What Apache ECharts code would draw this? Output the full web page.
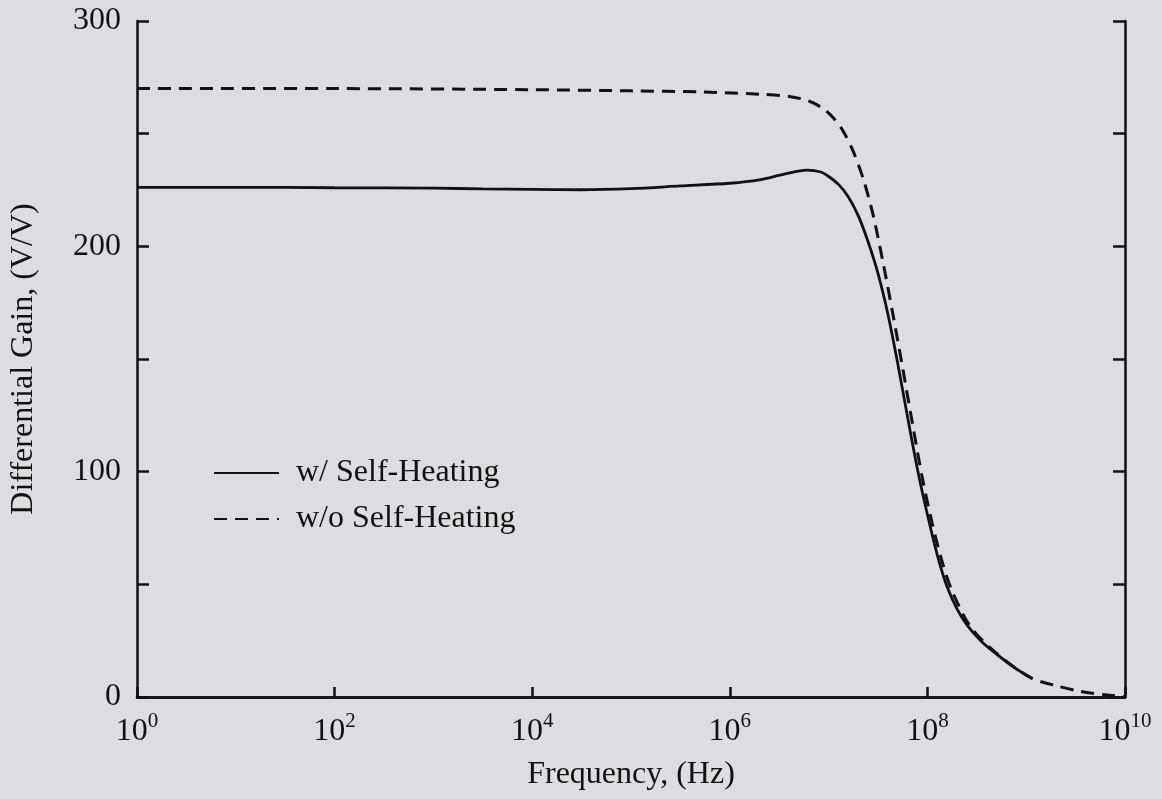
<!DOCTYPE html>
<html>
<head>
<meta charset="utf-8">
<script src="https://cdn.jsdelivr.net/npm/echarts@6/dist/echarts.min.js"></script>
<style>
  html, body { margin: 0; padding: 0; background: #dddcde; }
  #chart { width: 1162px; height: 799px; }
</style>
</head>
<body>
<div id="chart"></div>
<script>
// Frequency (Hz) and differential gain (V/V), with self-heating
const freqWithSH = [1, 10, 100, 1e3, 3.16e3, 1e4, 3.16e4, 1e5, 3.16e5, 1e6, 2e6, 3.55e6, 6.03e6,
  8.32e6, 1e7, 1.26e7, 1.58e7, 2e7, 2.51e7, 3.16e7, 3.98e7, 5.01e7, 6.31e7, 7.94e7,
  1e8, 1.26e8, 1.58e8, 2e8, 2.51e8, 3.55e8, 5.01e8, 7.59e8, 1.12e9];
const gainWithSH = [226.2, 226.2, 226, 225.8, 225.5, 225.3, 225.1, 225.6, 226.8, 228, 229.5, 232, 233.8,
  233, 231, 227.5, 222, 213.5, 202, 188, 170, 148, 124, 101,
  81, 63, 49, 39, 32, 24.5, 19, 13, 8.5];

// Frequency (Hz) and differential gain (V/V), without self-heating
const freqNoSH = [1, 100, 1e4, 1e5, 5.37e5, 2e6, 3.98e6, 6.31e6, 8.91e6, 1.12e7, 1.41e7, 1.78e7,
  2.24e7, 2.82e7, 3.55e7, 4.47e7, 5.62e7, 7.08e7, 8.91e7, 1.12e8, 1.41e8, 1.78e8,
  2.75e8, 5.13e8, 1.12e9, 2e9, 3.55e9, 6.31e9, 1e10];
const gainNoSH = [270, 270, 269.5, 269, 268.5, 267.5, 266.5, 264.5, 261, 257, 251, 242,
  230, 214, 193, 170, 146, 121, 97, 77, 60, 47,
  31, 19, 8.5, 5, 2.5, 1, 0.2];

const seriesNames = ['w/ Self-Heating', 'w/o Self-Heating'];
const yTicks = [0, 100, 200, 300];

const FONT = '"Liberation Serif", "DejaVu Serif", serif';
const INK = '#111111';

function pairs(xs, ys) { return xs.map((x, i) => [x, ys[i]]); }

const chart = echarts.init(document.getElementById('chart'), null, { renderer: 'canvas' });

chart.setOption({
  backgroundColor: '#dddcde',
  animation: false,
  grid: { left: 137, right: 37, top: 21, bottom: 102 },
  legend: {
    orient: 'vertical',
    left: 208,
    top: 452,
    itemWidth: 65,
    itemHeight: 20,
    itemGap: 14,
    data: seriesNames,
    itemStyle: { opacity: 0 },
    textStyle: { fontFamily: FONT, fontSize: 32, color: INK, padding: [0, 0, 0, 12] }
  },
  xAxis: [{
    type: 'log',
    logBase: 10,
    min: 1,
    max: 1e10,
    interval: 2,
    name: 'Frequency, (Hz)',
    nameLocation: 'middle',
    nameGap: 62,
    nameTextStyle: { fontFamily: FONT, fontSize: 32, color: INK },
    axisLine: { show: true, lineStyle: { color: INK, width: 2.5 } },
    axisTick: { show: true, inside: true, length: 10, lineStyle: { color: INK, width: 2.5 } },
    splitLine: { show: false },
    minorTick: { show: false },
    axisLabel: {
      margin: 14,
      formatter: function (v) {
        const e = Math.round(Math.log10(v));
        return '{b|10}{s|' + e + '}';
      },
      rich: {
        b: { fontFamily: FONT, fontSize: 32, color: INK, lineHeight: 37, verticalAlign: 'bottom' },
        s: { fontFamily: FONT, fontSize: 21, color: INK, lineHeight: 21, verticalAlign: 'top' }
      }
    }
  }, {
    type: 'log',
    logBase: 10,
    min: 1,
    max: 1e10,
    position: 'top',
    axisLine: { show: true, lineStyle: { color: INK, width: 2.5 } },
    axisTick: { show: false },
    axisLabel: { show: false },
    splitLine: { show: false }
  }],
  yAxis: [{
    type: 'value',
    min: 0,
    max: 300,
    interval: 50,
    name: 'Differential Gain, (V/V)',
    nameLocation: 'middle',
    nameGap: 97,
    nameTextStyle: { fontFamily: FONT, fontSize: 32, color: INK },
    axisLine: { show: true, lineStyle: { color: INK, width: 2.5 } },
    axisTick: { show: true, inside: true, length: 12, lineStyle: { color: INK, width: 2.5 } },
    splitLine: { show: false },
    axisLabel: {
      margin: 16,
      fontFamily: FONT,
      fontSize: 32,
      color: INK,
      formatter: function (v) { return yTicks.indexOf(v) >= 0 ? String(v) : ''; }
    }
  }, {
    type: 'value',
    min: 0,
    max: 300,
    interval: 50,
    position: 'right',
    axisLine: { show: true, lineStyle: { color: INK, width: 2.5 } },
    axisTick: { show: true, inside: true, length: 12, lineStyle: { color: INK, width: 2.5 } },
    axisLabel: { show: false },
    splitLine: { show: false }
  }],
  series: [{
    name: seriesNames[0],
    type: 'line',
    xAxisIndex: 0,
    yAxisIndex: 0,
    symbol: 'none',
    smooth: 0.3,
    lineStyle: { color: INK, width: 2.8 },
    itemStyle: { color: INK },
    data: pairs(freqWithSH, gainWithSH)
  }, {
    name: seriesNames[1],
    type: 'line',
    xAxisIndex: 0,
    yAxisIndex: 0,
    symbol: 'none',
    smooth: 0.3,
    lineStyle: { color: INK, width: 3, type: [13, 8] },
    itemStyle: { color: INK },
    data: pairs(freqNoSH, gainNoSH)
  }]
});
</script>
</body>
</html>
